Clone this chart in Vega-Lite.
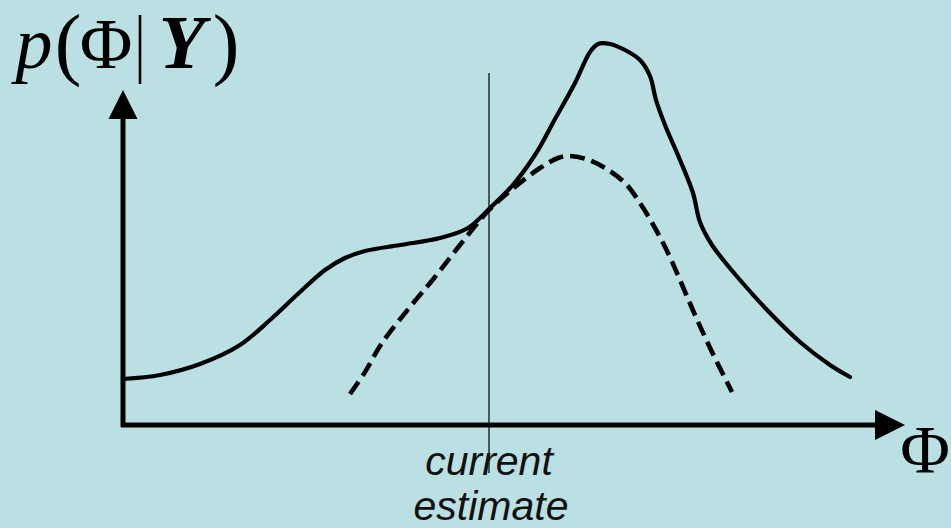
{
  "$schema": "https://vega.github.io/schema/vega-lite/v6.json",
  "width": 951,
  "height": 528,
  "autosize": {"type": "none"},
  "padding": 0,
  "background": "#bbe0e3",
  "config": {"view": {"stroke": null}},
  "datasets": {
    "solid": [
      {"x": 123, "y": 379}, {"x": 160, "y": 375}, {"x": 200, "y": 364}, {"x": 240, "y": 345},
      {"x": 270, "y": 320}, {"x": 300, "y": 292}, {"x": 325, "y": 270}, {"x": 345, "y": 258},
      {"x": 365, "y": 251}, {"x": 400, "y": 245}, {"x": 440, "y": 238}, {"x": 468, "y": 228},
      {"x": 490, "y": 208}, {"x": 512, "y": 186}, {"x": 535, "y": 155}, {"x": 555, "y": 119},
      {"x": 575, "y": 83}, {"x": 590, "y": 52}, {"x": 598, "y": 44}, {"x": 610, "y": 44},
      {"x": 625, "y": 50}, {"x": 640, "y": 60}, {"x": 650, "y": 76}, {"x": 656, "y": 100},
      {"x": 665, "y": 125}, {"x": 680, "y": 160}, {"x": 693, "y": 193}, {"x": 700, "y": 222},
      {"x": 712, "y": 245}, {"x": 740, "y": 280}, {"x": 770, "y": 313}, {"x": 800, "y": 342},
      {"x": 830, "y": 365}, {"x": 850, "y": 377}
    ],
    "dashed": [
      {"x": 350, "y": 394}, {"x": 365, "y": 372}, {"x": 382, "y": 343}, {"x": 410, "y": 307},
      {"x": 435, "y": 277}, {"x": 460, "y": 245}, {"x": 489, "y": 210}, {"x": 515, "y": 187},
      {"x": 540, "y": 168}, {"x": 558, "y": 158}, {"x": 570, "y": 156}, {"x": 586, "y": 159},
      {"x": 605, "y": 168}, {"x": 625, "y": 183}, {"x": 640, "y": 203}, {"x": 655, "y": 228},
      {"x": 668, "y": 253}, {"x": 680, "y": 280}, {"x": 695, "y": 315}, {"x": 712, "y": 352},
      {"x": 732, "y": 392}
    ],
    "axes": [
      {"x": 123, "y": 427, "x2": 123, "y2": 112},
      {"x": 121, "y": 425, "x2": 882, "y2": 425}
    ],
    "estimate": [
      {"x": 489, "y": 73, "x2": 489, "y2": 473}
    ],
    "arrowUp": [{"x": 123, "y": 104.5}],
    "arrowRight": [{"x": 890, "y": 425}],
    "caption": [
      {"x": 489, "y": 475, "label": "current"},
      {"x": 491, "y": 520, "label": "estimate"}
    ],
    "mathLeft": [
      {"x": 106, "y": 68, "label": "Φ"}
    ],
    "mathRight": [
      {"x": 925, "y": 472, "label": "Φ"}
    ],
    "parens": [
      {"x": 68, "y": 70, "label": "("},
      {"x": 226, "y": 70, "label": ")"}
    ],
    "bar": [{"x": 140, "y": 15, "x2": 140, "y2": 84}],
    "mathItalic": [{"x": 34, "y": 68, "label": "p"}],
    "mathBoldItalic": [{"x": 182, "y": 68, "label": "Y"}]
  },
  "encoding": {
    "x": {"field": "x", "type": "quantitative", "scale": {"domain": [0, 951], "nice": false, "zero": false}, "axis": null},
    "y": {"field": "y", "type": "quantitative", "scale": {"domain": [0, 528], "nice": false, "zero": false, "reverse": true}, "axis": null}
  },
  "layer": [
    {
      "data": {"name": "estimate"},
      "mark": {"type": "rule", "color": "#2b3838", "strokeWidth": 1.6},
      "encoding": {"x2": {"field": "x2"}, "y2": {"field": "y2"}}
    },
    {
      "data": {"name": "axes"},
      "mark": {"type": "rule", "color": "#000000", "strokeWidth": 5},
      "encoding": {"x2": {"field": "x2"}, "y2": {"field": "y2"}}
    },
    {
      "data": {"name": "arrowUp"},
      "mark": {"type": "point", "shape": "M0,-1L1,1L-1,1Z", "filled": true, "color": "#000000", "opacity": 1, "size": 841, "strokeWidth": 0}
    },
    {
      "data": {"name": "arrowRight"},
      "mark": {"type": "point", "shape": "M1,0L-1,-1L-1,1Z", "filled": true, "color": "#000000", "opacity": 1, "size": 900, "strokeWidth": 0}
    },
    {
      "data": {"name": "solid"},
      "mark": {"type": "line", "interpolate": "catmull-rom", "color": "#000000", "strokeWidth": 4.2, "strokeCap": "round", "strokeJoin": "round"}
    },
    {
      "data": {"name": "dashed"},
      "mark": {"type": "line", "interpolate": "catmull-rom", "color": "#000000", "strokeWidth": 4.6, "strokeDash": [15, 7]}
    },
    {
      "data": {"name": "caption"},
      "mark": {"type": "text", "font": "Liberation Sans", "fontStyle": "italic", "fontSize": 41, "align": "center", "baseline": "alphabetic", "color": "#111111"},
      "encoding": {"text": {"field": "label"}}
    },
    {
      "data": {"name": "mathLeft"},
      "mark": {"type": "text", "font": "Liberation Serif", "fontSize": 72, "align": "center", "baseline": "alphabetic", "color": "#000000"},
      "encoding": {"text": {"field": "label"}}
    },
    {
      "data": {"name": "mathRight"},
      "mark": {"type": "text", "font": "Liberation Serif", "fontSize": 68, "align": "center", "baseline": "alphabetic", "color": "#000000"},
      "encoding": {"text": {"field": "label"}}
    },
    {
      "data": {"name": "parens"},
      "mark": {"type": "text", "font": "Liberation Serif", "fontSize": 80, "align": "center", "baseline": "alphabetic", "color": "#000000"},
      "encoding": {"text": {"field": "label"}}
    },
    {
      "data": {"name": "bar"},
      "mark": {"type": "rule", "color": "#000000", "strokeWidth": 2.6},
      "encoding": {"x2": {"field": "x2"}, "y2": {"field": "y2"}}
    },
    {
      "data": {"name": "mathItalic"},
      "mark": {"type": "text", "font": "Liberation Serif", "fontStyle": "italic", "fontSize": 74, "align": "center", "baseline": "alphabetic", "color": "#000000"},
      "encoding": {"text": {"field": "label"}}
    },
    {
      "data": {"name": "mathBoldItalic"},
      "mark": {"type": "text", "font": "Liberation Serif", "fontStyle": "italic", "fontWeight": "bold", "fontSize": 76, "align": "center", "baseline": "alphabetic", "color": "#000000"},
      "encoding": {"text": {"field": "label"}}
    }
  ]
}
